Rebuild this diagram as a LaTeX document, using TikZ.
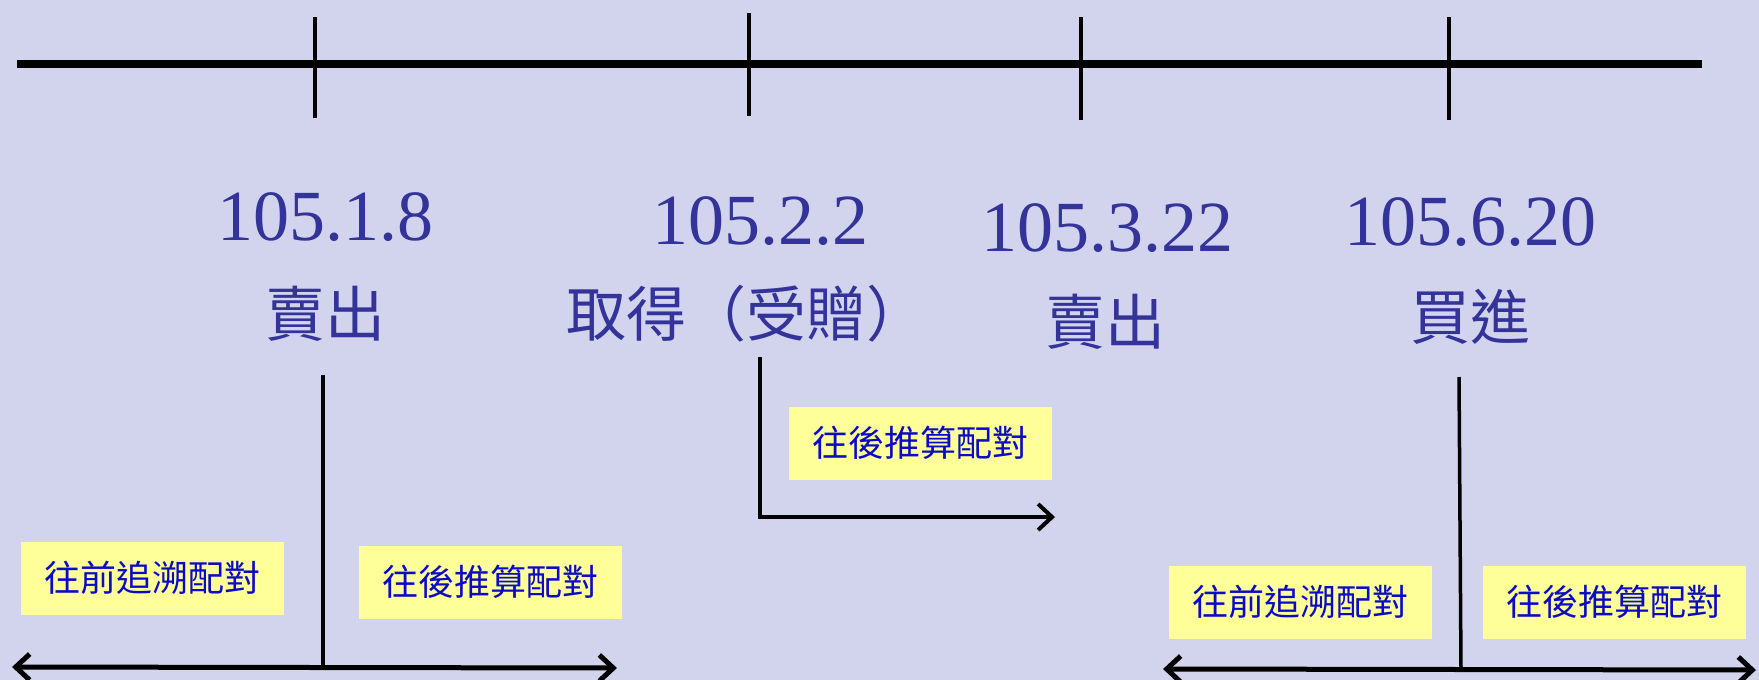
\documentclass[tikz,border=0pt]{standalone}
\usepackage{fontspec}
\setmainfont{Liberation Serif}
\newfontfamily\cjk{Noto Sans CJK TC}
\usetikzlibrary{positioning,arrows.meta}
\definecolor{bgcol}{RGB}{210,212,238}
\definecolor{datecol}{RGB}{51,51,153}
\definecolor{notecol}{RGB}{255,255,153}
\definecolor{notetxt}{RGB}{10,10,200}
\tikzstyle{datebox}=[inner sep=0pt, text=datecol, font=\fontsize{72}{76}\selectfont]
\tikzstyle{evbox}=[inner sep=0pt, text=datecol, font=\cjk\fontsize{60}{64}\selectfont]
\tikzstyle{notebox}=[rectangle, fill=notecol, text=notetxt, minimum width=263pt,
                    minimum height=73pt, inner sep=0pt, text centered,
                    font=\cjk\fontsize{36}{40}\selectfont]
\tikzstyle{tline}=[-, line width=8pt]
\tikzstyle{tickline}=[-, line width=4pt]
\tikzstyle{pline}=[-, line width=3.5pt]
\tikzstyle{aline}=[line width=5pt,
 {Straight Barb[length=14pt,width=26pt]}-{Straight Barb[length=14pt,width=26pt]}]
\tikzstyle{rline}=[line width=4pt, -{Straight Barb[length=14pt,width=26pt]}]

\begin{document}
\begin{tikzpicture}[x=1pt, y=-1pt]
\fill[bgcol] (0,0) rectangle (1759,680);
\useasboundingbox (0,0) rectangle (1759,680);

% time line
\coordinate (TLS) at (17,64);
\coordinate (TLE) at (1702,64);
 \draw[tline] (TLS) -- (TLE);
 \draw[tickline] (315,17) -- (315,118);
 \draw[tickline] (749,13) -- (749,116);
 \draw[tickline] (1081,17) -- (1081,120);
 \draw[tickline] (1449,17) -- (1449,120);

% dates and events
\node (D1) [datebox] at (325,217) {105.1.8};
\node (EV1) [evbox] at (325,314) {賣出};
\node (D2) [datebox] at (760,221) {105.2.2};
\node (EV2) [evbox] at (746,314) {取得（受贈）};
\node (D3) [datebox] at (1107,228) {105.3.22};
\node (EV3) [evbox] at (1105,322) {賣出};
\node (D4) [datebox] at (1470,222) {105.6.20};
\node (EV4) [evbox] at (1470,317) {買進};

% matching for 105.1.8
\coordinate (V1T) at (323,375);
\coordinate (V1B) at (323,667);
\coordinate (A1L) at (12,667);
\coordinate (A1R) at (617,668);
 \draw[pline] (V1T) -- (V1B);
 \draw[aline] (A1L) -- (A1R);
\node (FWD1) [notebox] at (152,578) {往前追溯配對};
\node (BCK1) [notebox] at (490,582) {往後推算配對};

% matching for 105.2.2
\coordinate (V2T) at (760,357);
\coordinate (A2R) at (1055,517);
 \draw[rline] (V2T) |- (A2R);
\node (BCK2) [notebox] at (920,443) {往後推算配對};

% matching for 105.6.20
\coordinate (V4T) at (1459,377);
\coordinate (V4B) at (1461,669);
\coordinate (A4L) at (1163,669);
\coordinate (A4R) at (1756,670);
 \draw[pline] (V4T) -- (V4B);
 \draw[aline] (A4L) -- (A4R);
\node (FWD4) [notebox] at (1300,602) {往前追溯配對};
\node (BCK4) [notebox, right=51pt of FWD4] {往後推算配對};

\end{tikzpicture}
\end{document}
